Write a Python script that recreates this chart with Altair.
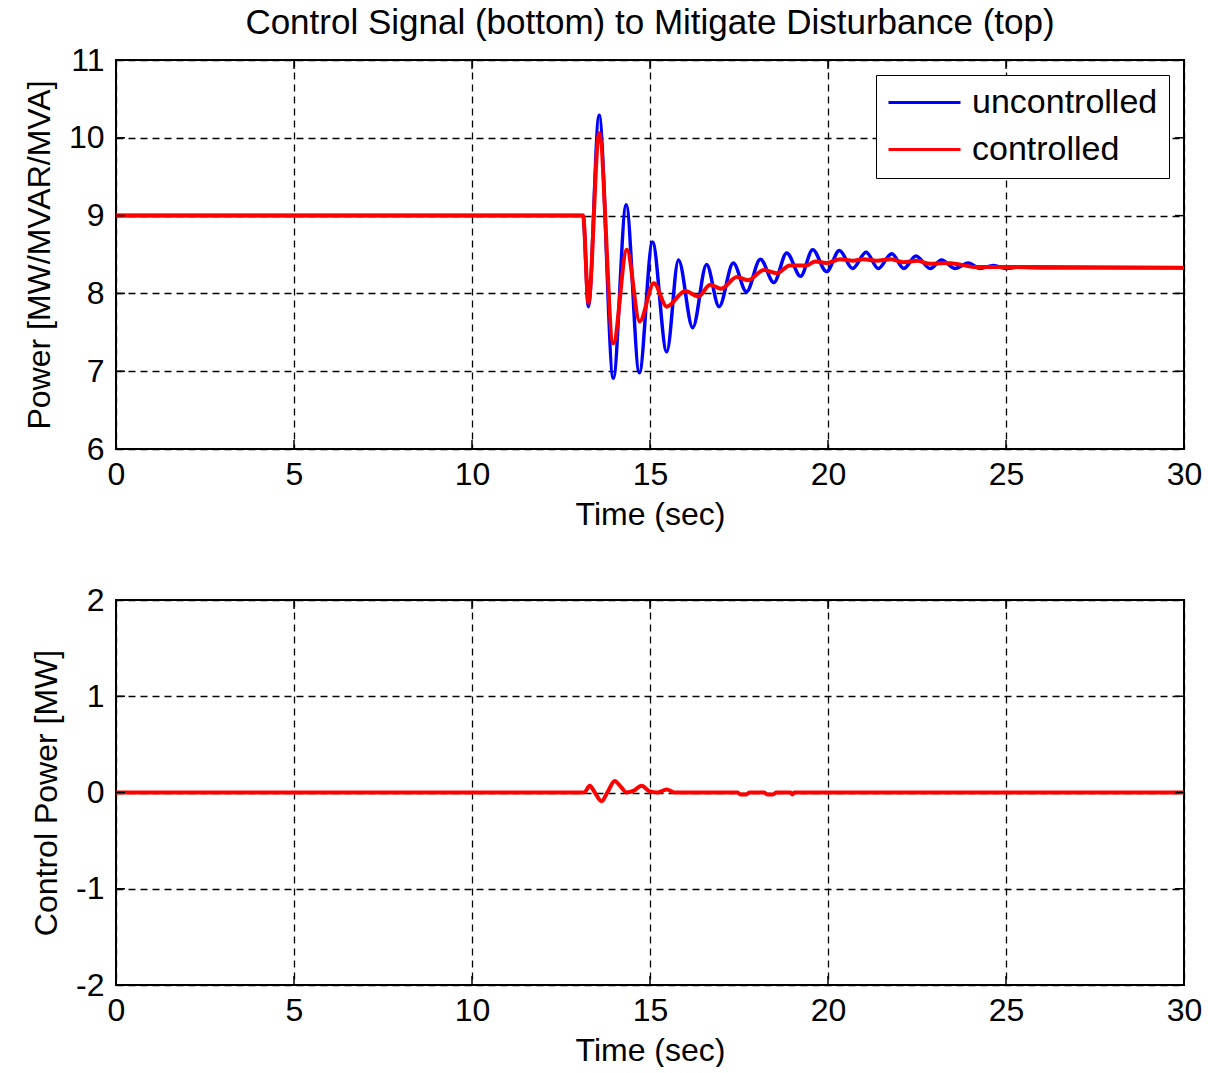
import altair as alt
import pandas as pd

FONT = "Liberation Sans"

# ---- data ----
unc_t = [0, 13.12, 13.27, 13.57, 13.97, 14.33, 14.70, 15.07, 15.47, 15.80, 16.20, 16.59, 16.94,
         17.34, 17.71, 18.10, 18.48, 18.84, 19.23, 19.57, 19.96, 20.32, 20.69, 21.07, 21.41,
         21.79, 22.13, 22.47, 22.87, 23.19, 23.57, 23.94, 24.27, 24.65, 25.0, 25.4, 30.0]
unc_p = [9.0, 9.0, 7.83, 10.29, 6.91, 9.14, 6.98, 8.66, 7.25, 8.43, 7.56, 8.37, 7.83,
         8.39, 8.02, 8.44, 8.14, 8.52, 8.22, 8.56, 8.28, 8.55, 8.32, 8.53, 8.32,
         8.51, 8.32, 8.48, 8.32, 8.43, 8.32, 8.39, 8.32, 8.36, 8.32, 8.34, 8.33]

ctl_t = [0, 13.12, 13.27, 13.57, 13.97, 14.35, 14.71, 15.11, 15.47, 15.99, 16.36, 16.69, 17.0,
         17.44, 17.75, 18.2, 18.56, 18.93, 19.4, 19.64, 19.96, 20.34, 20.7, 20.99, 21.37,
         21.75, 22.12, 22.5, 22.87, 23.25, 23.72, 24.1, 25.1, 26.0, 30.0]
ctl_p = [9.0, 9.0, 7.88, 10.06, 7.36, 8.56, 7.64, 8.13, 7.83, 8.03, 7.96, 8.11, 8.06,
         8.21, 8.17, 8.30, 8.26, 8.36, 8.36, 8.41, 8.39, 8.44, 8.42, 8.44, 8.42,
         8.44, 8.40, 8.42, 8.38, 8.39, 8.37, 8.34, 8.34, 8.33, 8.33]

sig_t = [0, 13.15, 13.31, 13.45, 13.64, 13.8, 14.01, 14.2, 14.34, 14.55, 14.76, 15.0, 15.2,
         15.47, 15.7, 17.45, 17.55, 17.7, 17.8, 18.2, 18.3, 18.45, 18.55, 18.95, 19.0, 19.05, 30.0]
sig_u = [0, 0, 0.07, 0.0, -0.09, 0.0, 0.12, 0.05, 0.0, 0.02, 0.07, 0.01, 0.0,
         0.03, 0.0, 0.0, -0.02, -0.02, 0.0, 0.0, -0.02, -0.02, 0.0, 0.0, -0.02, 0.0, 0.0]

x_ticks = [0, 5, 10, 15, 20, 25, 30]
top_y_ticks = [6, 7, 8, 9, 10, 11]
bot_y_ticks = [-2, -1, 0, 1, 2]
series_names = ["uncontrolled", "controlled"]
series_colors = ["#0000ff", "#ff0000"]

W = 1068
H_TOP = 389
H_BOT = 385
TICK = 9

df_unc = pd.DataFrame({"t": unc_t, "p": unc_p, "series": series_names[0]})
df_ctl = pd.DataFrame({"t": ctl_t, "p": ctl_p, "series": series_names[1]})
df_sig = pd.DataFrame({"t": sig_t, "p": sig_u, "series": series_names[1]})
df_xt = pd.DataFrame({"t": x_ticks})


def axis_common(**kw):
    return dict(grid=True, gridColor="#000000", gridDash=[7, 5], gridWidth=1.3,
                ticks=False, domain=False, labelFont=FONT, titleFont=FONT,
                labelFontSize=32, titleFontSize=32, labelColor="black",
                titleColor="black", titleFontWeight="normal", labelFlush=False,
                labelExpr="datum.value + ''", **kw)


def panel(dfs, ydom, yticks, ytitle, height, legend):
    x = alt.X("t:Q", scale=alt.Scale(domain=[0, 30], nice=False),
              axis=alt.Axis(values=x_ticks, title="Time (sec)", labelPadding=10,
                            titlePadding=9, **axis_common()))
    y = alt.Y("p:Q", scale=alt.Scale(domain=ydom, nice=False, zero=False),
              axis=alt.Axis(values=yticks, title=ytitle, labelPadding=12,
                            titlePadding=12, **axis_common()))
    if legend:
        leg = alt.Legend(title=None, orient="none", legendX=760, legendY=15,
                         labelFont=FONT, labelFontSize=34, labelColor="black",
                         labelLimit=400, clipHeight=33,
                         symbolType="stroke", symbolSize=5184, symbolStrokeWidth=3,
                         strokeColor="black", fillColor="white", padding=11,
                         labelOffset=10, rowPadding=12, cornerRadius=0)
    else:
        leg = None
    color = alt.Color("series:N", scale=alt.Scale(domain=series_names, range=series_colors),
                      legend=leg)
    layers = []
    for d in dfs:
        sw = 3.5 if d["series"].iloc[0] == series_names[0] else 4
        layers.append(alt.Chart(d).mark_line(interpolate="monotone", strokeWidth=sw)
                      .encode(x=x, y=y, color=color))
    df_yt = pd.DataFrame({"p": yticks})
    tk_top = alt.Chart(df_xt).mark_rule(color="black", strokeWidth=1.5).encode(
        x="t:Q", y=alt.value(0), y2=alt.value(TICK))
    tk_bot = alt.Chart(df_xt).mark_rule(color="black", strokeWidth=1.5).encode(
        x="t:Q", y=alt.value(height - TICK), y2=alt.value(height))
    tk_left = alt.Chart(df_yt).mark_rule(color="black", strokeWidth=1.5).encode(
        y="p:Q", x=alt.value(0), x2=alt.value(TICK))
    tk_right = alt.Chart(df_yt).mark_rule(color="black", strokeWidth=1.5).encode(
        y="p:Q", x=alt.value(W - TICK), x2=alt.value(W))
    return alt.layer(*layers, tk_top, tk_bot, tk_left, tk_right).properties(
        width=W, height=height)


top = panel([df_unc, df_ctl], [6, 11], top_y_ticks, "Power [MW/MVAR/MVA]", H_TOP, True).properties(
    title=alt.TitleParams("Control Signal (bottom) to Mitigate Disturbance (top)",
                          font=FONT, fontSize=35, fontWeight="normal", color="black",
                          anchor="middle", frame="group", offset=3))
bot = panel([df_sig], [-2, 2], bot_y_ticks, "Control Power [MW]", H_BOT, False)

chart = alt.vconcat(top, bot, spacing=52).properties(
    padding={"left": 22, "top": 5, "right": 0, "bottom": 0},
    background="white"
).configure_view(stroke="black", strokeWidth=2)

chart.save("out.html", embed_options={"renderer": "svg", "actions": False})
